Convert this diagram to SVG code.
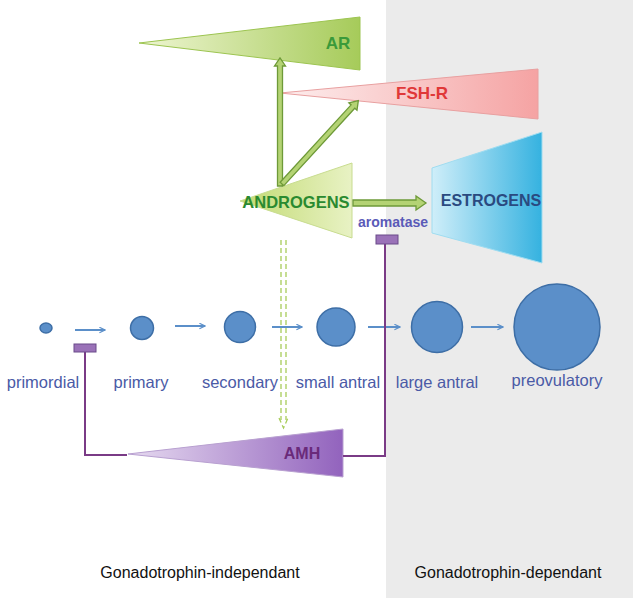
<svg xmlns="http://www.w3.org/2000/svg" width="633" height="598" viewBox="0 0 633 598">
<defs>
<linearGradient id="gAR" x1="0" y1="0" x2="1" y2="0"><stop offset="0" stop-color="#eef5d2"/><stop offset="1" stop-color="#a6cb5a"/></linearGradient>
<linearGradient id="gFSH" x1="0" y1="0" x2="1" y2="0"><stop offset="0" stop-color="#fdeeee"/><stop offset="1" stop-color="#f5a3a3"/></linearGradient>
<linearGradient id="gAND" x1="0" y1="0" x2="1" y2="0"><stop offset="0" stop-color="#c2da72"/><stop offset="1" stop-color="#e8f2c4"/></linearGradient>
<linearGradient id="gEST" x1="0" y1="0" x2="1" y2="0"><stop offset="0" stop-color="#cfeef9"/><stop offset="1" stop-color="#35b2e0"/></linearGradient>
<linearGradient id="gAMH" x1="0" y1="0" x2="1" y2="0"><stop offset="0" stop-color="#e6daf0"/><stop offset="1" stop-color="#9263bd"/></linearGradient>
<marker id="blueArrow" viewBox="0 0 10 10" refX="9" refY="5" markerWidth="7" markerHeight="7" orient="auto" markerUnits="userSpaceOnUse"><path d="M1,1 L9,5 L1,9" fill="none" stroke="#5b8fc9" stroke-width="1.6"/></marker>
<style>
.fol{fill:#5b8fc9;stroke:#3d6ea6;stroke-width:1.5}
.flw{stroke:#5b8fc9;stroke-width:2;fill:none;marker-end:url(#blueArrow)}
.lab{font-family:"Liberation Sans",Arial,sans-serif;font-size:16.5px;fill:#4a5aa6;text-anchor:middle}
.big{font-family:"Liberation Sans",Arial,sans-serif;font-weight:bold;text-anchor:middle}
.garrow{fill:#b4d374;stroke:#6e9a38;stroke-width:1.3}
.inh{fill:none;stroke:#7a3b86;stroke-width:2}
.bar{fill:#9a72b8;stroke:#6a4a8a;stroke-width:1}
.foot{font-family:"Liberation Sans",Arial,sans-serif;font-size:16px;fill:#111;text-anchor:middle}
</style>
</defs>
<rect x="0" y="0" width="633" height="598" fill="#ffffff"/>
<rect x="386" y="0" width="247" height="598" fill="#ebebeb"/>

<g id="AR">
<polygon points="139,43 360,17 360,70" fill="url(#gAR)" stroke="#9cc450" stroke-width="1"/>
<text x="338" y="49" class="big" font-size="17" fill="#3a9a3a">AR</text>
</g>
<g id="FSH-R">
<polygon points="280,93 538,69 538,119" fill="url(#gFSH)" stroke="#e8a0a0" stroke-width="1"/>
<text x="422" y="99" class="big" font-size="17" fill="#e03838">FSH-R</text>
</g>
<g id="ANDROGENS">
<polygon points="240,201 352,163 352,238" fill="url(#gAND)" stroke="#c8dc90" stroke-width="1"/>
<text x="296" y="208" class="big" font-size="16.5" fill="#2a8a30">ANDROGENS</text>
</g>
<g id="ESTROGENS">
<polygon points="432,168 542,132 542,263 432,233" fill="url(#gEST)" stroke="#9fdcf0" stroke-width="1"/>
<text x="491" y="206" class="big" font-size="16" fill="#2a4a80">ESTROGENS</text>
</g>
<g id="aromatase">
<text x="393" y="227" class="big" font-size="14" fill="#5a5ab8">aromatase</text>
</g>
<g id="AMH">
<polygon points="128,454 343,429 343,477" fill="url(#gAMH)" stroke="#b8a0d0" stroke-width="1"/>
<text x="302" y="459" class="big" font-size="16" fill="#6a2a7a">AMH</text>
</g>

<g id="follicles">
<g id="primordial"><ellipse cx="46" cy="328" rx="6" ry="5" class="fol"/><text x="43" y="388" class="lab">primordial</text></g>
<g id="primary"><circle cx="142" cy="328" r="11.5" class="fol"/><text x="141" y="388" class="lab">primary</text></g>
<g id="secondary"><circle cx="240" cy="327" r="15.5" class="fol"/><text x="240" y="388" class="lab">secondary</text></g>
<g id="small-antral"><circle cx="336" cy="327" r="19" class="fol"/><text x="338" y="388" class="lab">small antral</text></g>
<g id="large-antral"><circle cx="437" cy="327" r="25.5" class="fol"/><text x="437" y="388" class="lab">large antral</text></g>
<g id="preovulatory"><circle cx="557" cy="327" r="43" class="fol"/><text x="557" y="386" class="lab">preovulatory</text></g>
</g>

<g id="connectors">
<line x1="75" y1="330" x2="105" y2="330" class="flw"/>
<line x1="175" y1="326" x2="205" y2="326" class="flw"/>
<line x1="272" y1="327" x2="302" y2="327" class="flw"/>
<line x1="368" y1="327" x2="400" y2="327" class="flw"/>
<line x1="471" y1="327" x2="503" y2="327" class="flw"/>

<polygon class="garrow" transform="translate(280,186) rotate(-90)" points="0,-2.5 120,-2.5 120,-5.5 128,0 120,5.5 120,2.5 0,2.5"/>
<polygon class="garrow" transform="translate(282,184) rotate(-47.5)" points="0,-2.5 105,-2.5 105,-5.5 113,0 105,5.5 105,2.5 0,2.5"/>
<polygon class="garrow" transform="translate(353,203)" points="0,-3 63,-3 63,-7 73,0 63,7 63,3 0,3"/>

<g fill="none" stroke="#a8cc5a" stroke-width="1.3" stroke-dasharray="5,3">
<line x1="281" y1="240" x2="281" y2="420"/>
<line x1="286" y1="240" x2="286" y2="420"/>
<polyline points="279,418 283.5,428 288,418"/>
</g>

<polyline class="inh" points="85,352 85,455 127,455"/>
<rect x="74" y="344" width="22" height="8" class="bar"/>
<polyline class="inh" points="343,456 385,456 385,244"/>
<rect x="376" y="235" width="22" height="9" class="bar"/>
</g>

<g id="footer">
<text x="200" y="578" class="foot">Gonadotrophin-independant</text>
<text x="508" y="578" class="foot">Gonadotrophin-dependant</text>
</g>
</svg>
